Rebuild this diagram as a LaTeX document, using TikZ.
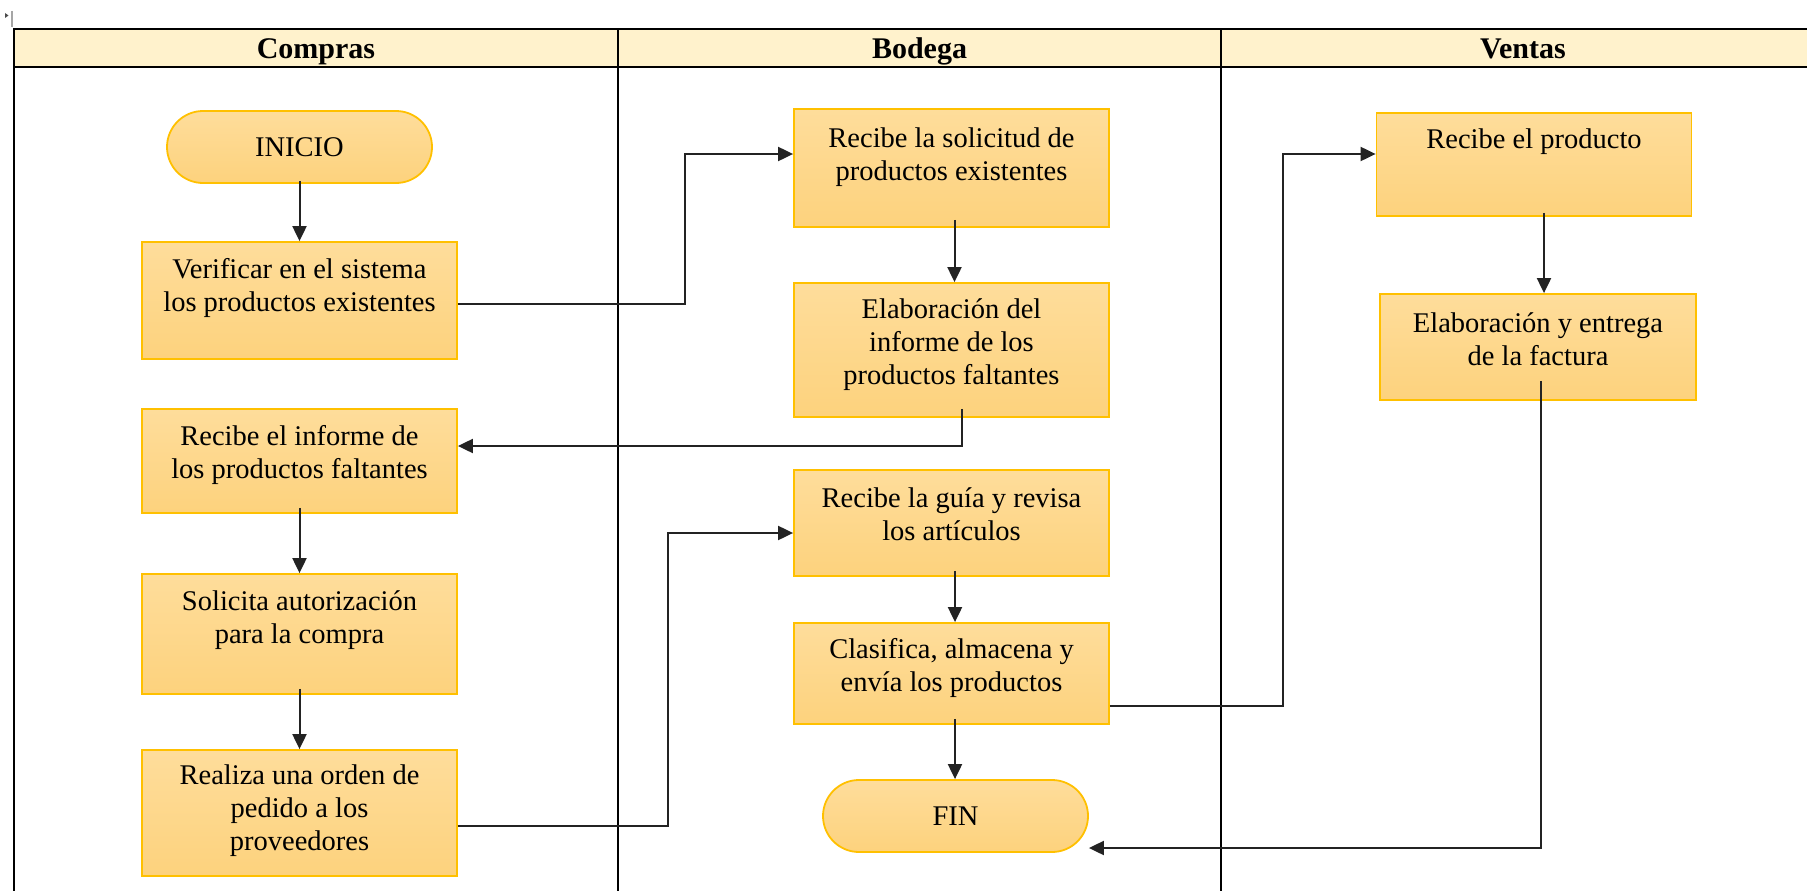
\documentclass[tikz,border=0pt]{standalone}
\usepackage{fontspec}
\setmainfont{Liberation Serif}
\usetikzlibrary{arrows.meta,shapes.misc}
\definecolor{boxtop}{RGB}{254,221,155}
\definecolor{boxbot}{RGB}{253,210,125}
\definecolor{boxline}{RGB}{255,192,0}
\definecolor{headfill}{RGB}{255,242,204}
\definecolor{conncol}{RGB}{35,35,35}
\tikzset{
 procbox/.style={rectangle, draw=boxline, line width=1.8pt, top color=boxtop, bottom color=boxbot, inner sep=0pt, minimum width=315pt},
 termbox/.style={rounded rectangle, draw=boxline, line width=1.8pt, top color=boxtop, bottom color=boxbot, inner sep=0pt, minimum width=265pt, minimum height=72pt, font=\fontsize{28.5}{33}\selectfont},
 boxtext/.style={anchor=north, align=center, inner sep=0pt, font=\fontsize{28.5}{33}\selectfont},
 lanehead/.style={anchor=base, inner sep=0pt, font=\fontsize{30}{36}\selectfont\bfseries},
 lane/.style={draw=black, line width=2pt},
 arr/.style={draw=conncol, line width=2pt, -{Triangle[length=15pt,width=14pt]}},
}
\begin{document}
\begin{tikzpicture}[x=1pt,y=-1pt]
\clip (0,0) rectangle (1807,891);
\fill[white] (0,0) rectangle (1807,891);
% small corner mark
\draw[gray!70, line width=1.5pt] (12,11) -- (12,27);
\fill[black!70] (5,13) -- (8.5,15.5) -- (5,18) -- cycle;
% lanes
\fill[headfill] (14,29) rectangle (1840,67);
\draw[lane] (1840,29) -- (14,29) -- (14,900);
\draw[lane] (14,67) -- (1840,67);
\draw[lane] (618,29) -- (618,900);
\draw[lane] (1221,29) -- (1221,900);
\node[lanehead] (hc) at (316,58.5) {Compras};
\node[lanehead] (hb) at (919.5,58.5) {Bodega};
\node[lanehead] (hv) at (1523,58.5) {Ventas};
% Compras
\node[termbox] (ini) at (299.5,147) {INICIO};
\node[procbox, minimum height=117pt] (ver) at (299.5,300.5) {};
\node[boxtext] (verT) at (299.5,255) {\strut Verificar en el sistema\\los productos existentes};
\node[procbox, minimum height=104pt] (rin) at (299.5,461) {};
\node[boxtext] (rinT) at (299.5,422) {\strut Recibe el informe de\\los productos faltantes};
\node[procbox, minimum height=120pt] (sol) at (299.5,634) {};
\node[boxtext] (solT) at (299.5,587) {\strut Solicita autorización\\para la compra};
\node[procbox, minimum height=126pt] (rea) at (299.5,813) {};
\node[boxtext] (reaT) at (299.5,761) {\strut Realiza una orden de\\pedido a los\\proveedores};
% Bodega
\node[procbox, minimum height=118pt] (rsol) at (951.5,168) {};
\node[boxtext] (rsolT) at (951.5,124) {\strut Recibe la solicitud de\\productos existentes};
\node[procbox, minimum height=134pt] (elab) at (951.5,350) {};
\node[boxtext] (elabT) at (951.5,295) {\strut Elaboración del\\informe de los\\productos faltantes};
\node[procbox, minimum height=106pt] (guia) at (951.5,523) {};
\node[boxtext] (guiaT) at (951.5,484) {\strut Recibe la guía y revisa\\los artículos};
\node[procbox, minimum height=101pt] (cla) at (951.5,673.5) {};
\node[boxtext] (claT) at (951.5,635) {\strut Clasifica, almacena y\\envía los productos};
\node[termbox] (fin) at (955.5,816) {FIN};
% Ventas
\node[procbox, minimum height=103pt] (rpro) at (1534,164.5) {};
\node[boxtext] (rproT) at (1534,125) {\strut Recibe el producto};
\node[procbox, minimum height=106pt, minimum width=316pt] (ent) at (1538,347) {};
\node[boxtext] (entT) at (1538,309) {\strut Elaboración y entrega\\de la factura};
% connectors
\draw[arr] ([yshift=3pt]ini.south) -- (ini.south |- ver.north);
\draw[arr] ([yshift=-3.5pt]ver.east) -- (685,304) |- ([yshift=14pt]rsol.west);
\draw[arr] ([xshift=3pt,yshift=8pt]rsol.south) -- ([xshift=3pt]elab.north);
\draw[arr] ([xshift=10.5pt,yshift=9pt]elab.south) |- ([yshift=15pt]rin.east);
\draw[arr] ([yshift=6pt]rin.south) -- (sol.north);
\draw[arr] ([yshift=6pt]sol.south) -- (rea.north);
\draw[arr] ([yshift=-13pt]rea.east) -- (668,826) |- ([yshift=-10pt]guia.west);
\draw[arr] ([xshift=3.5pt,yshift=6pt]guia.south) -- ([xshift=3.5pt]cla.north);
\draw[arr] ([xshift=3.5pt,yshift=6pt]cla.south) -- ([xshift=-0.5pt]fin.north);
\draw[arr] ([yshift=-32.5pt]cla.east) -- (1282.5,706) |- ([yshift=10.5pt]rpro.west);
\draw[arr] ([xshift=10pt,yshift=4pt]rpro.south) -- ([xshift=6pt]ent.north);
\draw[arr] ([xshift=3pt,yshift=20pt]ent.south) |- ([yshift=-32pt]fin.east);
\end{tikzpicture}
\end{document}
